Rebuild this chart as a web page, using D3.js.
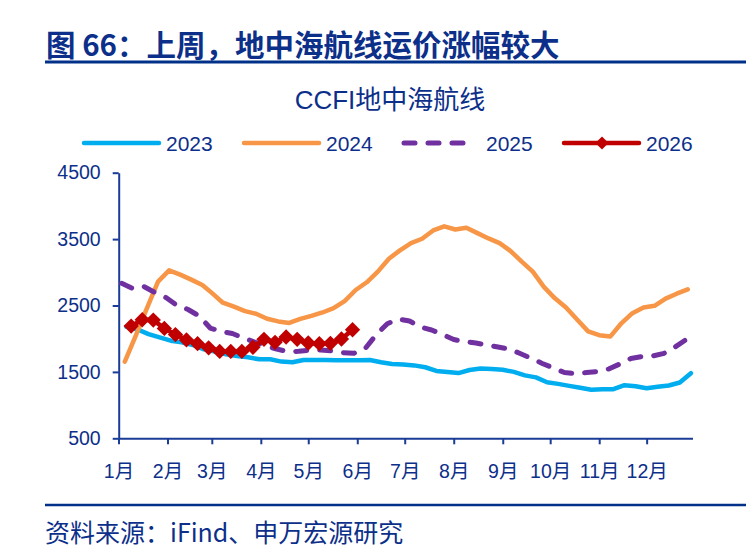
<!DOCTYPE html>
<html>
<head>
<meta charset="utf-8">
<script src="https://cdn.jsdelivr.net/npm/d3@7"></script>
<style>
  body { margin: 0; background: #fff; }
  svg { display: block; }
</style>
</head>
<body>
<svg id="chart" width="746" height="557"></svg>
<script>
// ---- data (weekly CCFI Mediterranean index) ----
const seriesNames = ["2023", "2024", "2025", "2026"];
const firstWeek = ["2023-01-06", "2024-01-05", "2025-01-03", "2026-01-09"];
const months = ["1月","2月","3月","4月","5月","6月","7月","8月","9月","10月","11月","12月"];
const yTicks = [500, 1500, 2500, 3500, 4500];

const v2023 = [2180, 2140, 2070, 2020, 1970, 1945, 1905, 1840, 1805, 1765,
  1740, 1720, 1690, 1690, 1655, 1645, 1680, 1680, 1680, 1675,
  1675, 1675, 1680, 1645, 1620, 1612, 1598, 1570, 1515, 1497,
  1482, 1528, 1552, 1545, 1532, 1500, 1448, 1418, 1345, 1320,
  1290, 1260, 1230, 1240, 1240, 1300, 1285, 1255, 1275, 1295,
  1340, 1480];
const v2024 = [1654, 2050, 2460, 2860, 3030, 2965, 2890, 2810, 2690, 2542,
  2482, 2415, 2375, 2300, 2260, 2238, 2298, 2343, 2395, 2460,
  2567, 2733, 2850, 3010, 3205, 3330, 3440, 3505, 3630, 3692,
  3645, 3672, 3590, 3510, 3440, 3320, 3160, 3010, 2780, 2608,
  2470, 2290, 2110, 2052, 2032, 2232, 2385, 2470, 2495, 2603,
  2678, 2742];
const v2025 = [2834, 2756, 2786, 2696, 2620, 2500, 2440, 2342, 2161, 2108,
  2078, 2011, 1950, 1890, 1845, 1805, 1810, 1828, 1830, 1815,
  1790, 1782, 1852, 2060, 2225, 2297, 2267, 2176, 2131, 2063,
  1988, 1955, 1935, 1905, 1875, 1845, 1777, 1705, 1627, 1559,
  1491, 1476, 1491, 1506, 1544, 1619, 1702, 1732, 1740, 1780,
  1875, 1988];
const v2026 = [2190, 2285, 2280, 2155, 2062, 1982, 1925, 1862, 1808, 1808,
  1808, 1870, 1990, 1945, 2025, 1990, 1935, 1925, 1930, 1995, 2135];

const colors = ["#00aeef", "#f79646", "#7030a0", "#c00000"];
const textColor = "#0c2f8a";
const axisColor = "#1a3c96";
const font = "'Liberation Sans', Arial, 'Noto Sans CJK SC', sans-serif";
const cjkFont = "'Noto Sans CJK SC', 'Liberation Sans', sans-serif";

let svg = d3.select("#chart");

// every year is laid onto the same Jan-Dec axis
function toBaseYear(d) { return new Date(2023, d.getMonth(), d.getDate()); }
function weekly(start, values) {
  let s = d3.timeParse("%Y-%m-%d")(start);
  return values.map((v, i) => ({ date: toBaseYear(d3.timeDay.offset(s, 7 * i)), value: v }));
}
let allValues = [v2023, v2024, v2025, v2026];
let series = allValues.map((vals, i) => weekly(firstWeek[i], vals));

let x = d3.scaleTime()
  .domain([new Date(2023, 0, 1), new Date(2023, 11, 30)])
  .range([118.5, 692.5]);
let y = d3.scaleLinear()
  .domain([500, 4500])
  .range([438.3, 172.7]);

// title + rules
svg.append("text")
  .attr("x", 46).attr("y", 56)
  .text("图 66：上周，地中海航线运价涨幅较大")
  .style("font-family", cjkFont)
  .style("font-weight", "bold")
  .style("font-size", "29.5px")
  .style("fill", textColor);
svg.append("line")
  .attr("x1", 45).attr("x2", 746).attr("y1", 62).attr("y2", 62)
  .style("stroke", "#003087").style("stroke-width", 3);
svg.append("line")
  .attr("x1", 45).attr("x2", 746).attr("y1", 505).attr("y2", 505)
  .style("stroke", "#003087").style("stroke-width", 2.5);
svg.append("text")
  .attr("x", 45).attr("y", 542)
  .text("资料来源：iFind、申万宏源研究")
  .style("font-family", cjkFont)
  .style("font-size", "25px")
  .style("fill", textColor);

// chart title
svg.append("text")
  .attr("x", 390).attr("y", 109)
  .attr("text-anchor", "middle")
  .text("CCFI地中海航线")
  .style("font-family", font)
  .style("font-size", "26px")
  .style("fill", textColor);

// axes
let yAxis = svg.append("g")
  .attr("transform", "translate(118.7,0)")
  .call(d3.axisLeft(y).tickValues(yTicks).tickSize(6).tickSizeOuter(0).tickPadding(12)
    .tickFormat(d3.format("d")));
let xAxis = svg.append("g")
  .attr("transform", "translate(0,438.3)")
  .call(d3.axisBottom(x).ticks(d3.timeMonth.every(1)).tickSize(6).tickSizeOuter(0)
    .tickFormat((d, i) => months[i]));
[yAxis, xAxis].forEach(g => {
  g.selectAll("path, line").style("stroke", axisColor).style("stroke-width", 2);
  g.selectAll("text")
    .style("font-family", font)
    .style("font-size", "19.5px")
    .style("fill", textColor);
});
xAxis.selectAll("text").attr("y", 40).attr("dy", 0);

// lines
let line = d3.line().x(d => x(d.date)).y(d => y(d.value));
series.forEach((s, i) => {
  let p = svg.append("path")
    .datum(s)
    .attr("d", line)
    .style("fill", "none")
    .style("stroke", colors[i])
    .style("stroke-width", i == 2 ? 5 : 4.5)
    .style("stroke-linejoin", "round")
    .style("stroke-linecap", "round");
  if (i == 2) p.style("stroke-dasharray", "11,13");
});

// 2026 diamonds
let diamond = d3.symbol().type(d3.symbolDiamond2).size(150);
svg.selectAll(".mark2026")
  .data(series[3])
  .enter()
  .append("path")
  .attr("class", "mark2026")
  .attr("d", diamond)
  .attr("transform", d => "translate(" + x(d.date) + "," + y(d.value) + ")")
  .style("fill", colors[3]);

// legend
let legendX = [84, 244, 404, 564];
seriesNames.forEach((name, i) => {
  let lg = svg.append("line")
    .attr("x1", legendX[i]).attr("x2", legendX[i] + 75)
    .attr("y1", 143).attr("y2", 143)
    .style("stroke", colors[i])
    .style("stroke-width", i == 2 ? 5 : 4.5)
    .style("stroke-linecap", "round");
  if (i == 2) lg.attr("x2", legendX[i] + 70).style("stroke-dasharray", "11,13");
  if (i == 3) {
    svg.append("path")
      .attr("d", d3.symbol().type(d3.symbolDiamond2).size(110))
      .attr("transform", "translate(" + (legendX[i] + 38) + ",143)")
      .style("fill", colors[i]);
  }
  svg.append("text")
    .attr("x", legendX[i] + 82).attr("y", 151)
    .text(name)
    .style("font-family", font)
    .style("font-size", "21px")
    .style("fill", textColor);
});
</script>
</body>
</html>
